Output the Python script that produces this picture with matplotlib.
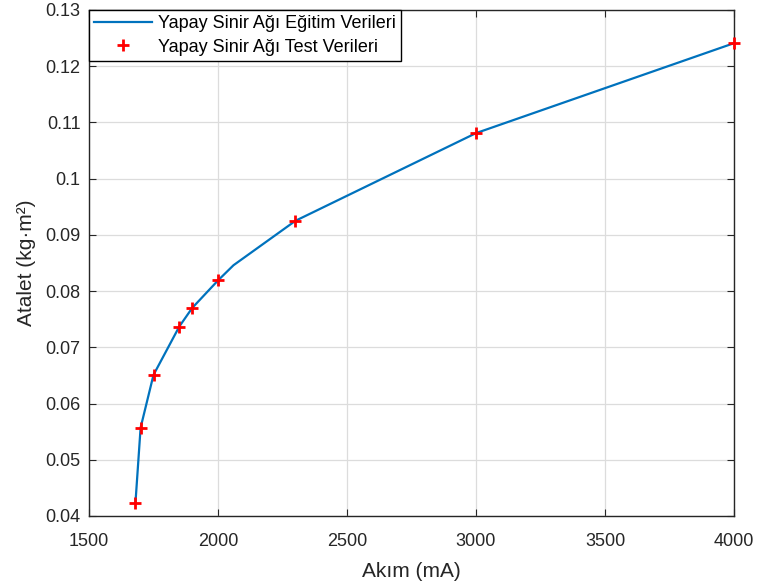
import numpy as np
import matplotlib.pyplot as plt

plt.rcParams['font.family'] = ['Liberation Sans', 'DejaVu Sans']

# egitim verileri (cizgi)
egitim_akim = [1680, 1700, 1750, 1850, 1900, 2000, 2060, 2300, 3000, 4000]
egitim_atalet = [0.0423, 0.0557, 0.0651, 0.0737, 0.0770, 0.0819, 0.0846, 0.0925, 0.1081, 0.1241]

# test verileri (isaretler)
test_akim = [1680, 1700, 1750, 1850, 1900, 2000, 2300, 3000, 4000]
test_atalet = [0.0423, 0.0557, 0.0651, 0.0737, 0.0770, 0.0819, 0.0925, 0.1081, 0.1241]

x_ticks = [1500, 2000, 2500, 3000, 3500, 4000]
y_ticks = [0.04, 0.05, 0.06, 0.07, 0.08, 0.09, 0.1, 0.11, 0.12, 0.13]

fig = plt.figure(figsize=(7.58, 5.85), dpi=100)
ax = fig.add_axes([89/758, 1-516/585, (734-89)/758, (516-10)/585])

ax.plot(egitim_akim, egitim_atalet, color='#0072BD', lw=1.6, label='Yapay Sinir Ağı Eğitim Verileri')
ax.plot(test_akim, test_atalet, '+', color='red', ms=9, mew=2.0, ls='none', clip_on=False,
        zorder=5, label='Yapay Sinir Ağı Test Verileri')

ax.set_xlim(1500, 4000)
ax.set_ylim(0.04, 0.13)
ax.set_xticks(x_ticks)
ax.set_yticks(y_ticks)
ax.set_yticklabels([('%g' % v) for v in y_ticks])
ax.grid(True, color='#dcdcdc', lw=0.9)
ax.set_axisbelow(True)
ax.tick_params(direction='in', length=5, top=True, right=True, labelsize=13, colors='#262626', pad=6)
ax.tick_params(axis='x', pad=12)
for s in ax.spines.values():
    s.set_color('#262626')
    s.set_linewidth(1.0)

ax.set_xlabel('Akım (mA)', fontsize=15, color='#262626', labelpad=9)
ax.set_ylabel('Atalet (kg·m²)', fontsize=15, color='#262626', labelpad=7)

leg = ax.legend(loc='upper left', fontsize=13, fancybox=False, edgecolor='black',
                framealpha=1, borderaxespad=0.0, handlelength=3.2, borderpad=0.3,
                labelspacing=0.35, handletextpad=0.3)
leg.get_frame().set_linewidth(1.0)

fig.savefig('out.png', dpi=100)
